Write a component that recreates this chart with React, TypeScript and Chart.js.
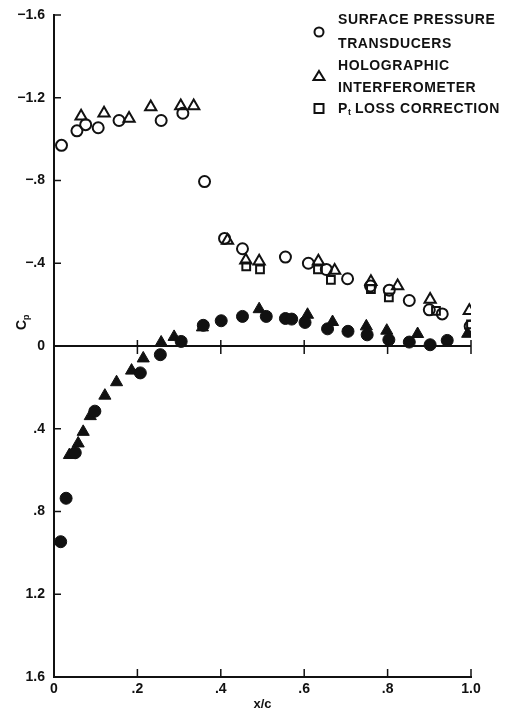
import React, { useEffect, useRef } from "react";
import { Chart, registerables } from "chart.js";

Chart.register(...registerables);

// Upper surface (open markers)
const upperCircleX = [0.018, 0.055, 0.076, 0.106, 0.156, 0.257, 0.309, 0.361, 0.409, 0.452, 0.555, 0.61, 0.653, 0.704, 0.759, 0.804, 0.852, 0.9, 0.931, 0.998];
const upperCircleCp = [-0.97, -1.04, -1.07, -1.055, -1.09, -1.09, -1.125, -0.795, -0.52, -0.47, -0.43, -0.4, -0.37, -0.325, -0.29, -0.27, -0.22, -0.175, -0.155, -0.095];

const upperTriX = [0.065, 0.12, 0.18, 0.232, 0.304, 0.335, 0.416, 0.46, 0.492, 0.634, 0.673, 0.76, 0.824, 0.902, 0.996];
const upperTriCp = [-1.11, -1.125, -1.1, -1.155, -1.16, -1.16, -0.51, -0.415, -0.41, -0.41, -0.365, -0.31, -0.29, -0.225, -0.17];

const upperSqX = [0.461, 0.494, 0.633, 0.664, 0.76, 0.803, 0.916, 1.0];
const upperSqCp = [-0.385, -0.37, -0.37, -0.32, -0.275, -0.235, -0.17, -0.105];

// Lower surface (filled markers)
const lowerCircleX = [0.016, 0.029, 0.051, 0.098, 0.207, 0.255, 0.305, 0.358, 0.401, 0.452, 0.509, 0.555, 0.57, 0.602, 0.656, 0.705, 0.751, 0.803, 0.852, 0.902, 0.943];
const lowerCircleCp = [0.946, 0.736, 0.516, 0.315, 0.13, 0.042, -0.022, -0.1, -0.122, -0.143, -0.143, -0.133, -0.13, -0.114, -0.083, -0.071, -0.054, -0.03, -0.019, -0.006, -0.027];

const lowerTriX = [0.037, 0.058, 0.07, 0.087, 0.122, 0.15, 0.186, 0.214, 0.257, 0.288, 0.356, 0.492, 0.608, 0.668, 0.749, 0.798, 0.872, 0.992];
const lowerTriCp = [0.527, 0.471, 0.415, 0.339, 0.24, 0.175, 0.119, 0.06, -0.017, -0.044, -0.09, -0.178, -0.151, -0.116, -0.095, -0.074, -0.058, -0.059];

const xTickValues = [0, 0.2, 0.4, 0.6, 0.8, 1.0];
const yTickValues = [-1.6, -1.2, -0.8, -0.4, 0, 0.4, 0.8, 1.2, 1.6];

const legendLines = [
  ["SURFACE PRESSURE", "TRANSDUCERS"],
  ["HOLOGRAPHIC", "INTERFEROMETER"],
  ["LOSS CORRECTION"],
];
const xTitle = "x/c";

const INK = "#111";
const FONT = "'Liberation Sans', Arial, sans-serif";

function fmt(v: number): string {
  if (Math.abs(v) < 1e-9) return "0";
  const s = Math.abs(v).toFixed(1);
  const t = s.startsWith("0") ? s.slice(1) : s;
  return (v < 0 ? "\u2212" : "") + t;
}

function pts(xs: number[], ys: number[]) {
  return xs.map((x, i) => ({ x, y: ys[i] }));
}

const decorPlugin = {
  id: "decor",
  afterDraw(chart: any) {
    const ctx = chart.ctx as CanvasRenderingContext2D;
    const xs = chart.scales.x;
    const ys = chart.scales.y;
    const area = chart.chartArea;
    ctx.save();
    ctx.strokeStyle = INK;
    ctx.fillStyle = INK;
    ctx.lineWidth = 2;
    // zero line
    const y0 = ys.getPixelForValue(0);
    ctx.beginPath();
    ctx.moveTo(area.left, y0);
    ctx.lineTo(area.right, y0);
    ctx.stroke();
    // x ticks (inside, bottom) and on zero line
    ctx.lineWidth = 1.5;
    xTickValues.forEach((v) => {
      if (v === 0) return;
      const px = xs.getPixelForValue(v);
      ctx.beginPath();
      ctx.moveTo(px, area.bottom);
      ctx.lineTo(px, area.bottom - 8);
      ctx.stroke();
      ctx.beginPath();
      ctx.moveTo(px, y0 - 6);
      ctx.lineTo(px, y0 + 8);
      ctx.stroke();
    });
    // y ticks (inside)
    yTickValues.forEach((v) => {
      const py = ys.getPixelForValue(v);
      ctx.beginPath();
      ctx.moveTo(area.left, py);
      ctx.lineTo(area.left + 7, py);
      ctx.stroke();
    });

    // axis titles
    ctx.font = `bold 13px ${FONT}`;
    ctx.textAlign = "center";
    ctx.textBaseline = "middle";
    ctx.fillText(xTitle, (area.left + area.right) / 2, 704);
    // C_p rotated
    ctx.save();
    ctx.translate(22, 322);
    ctx.rotate(-Math.PI / 2);
    ctx.font = `bold 14px ${FONT}`;
    ctx.textAlign = "left";
    ctx.fillText("C", -8, 0);
    ctx.font = `bold 9px ${FONT}`;
    ctx.fillText("p", 2, 5);
    ctx.restore();

    // legend
    ctx.lineWidth = 2;
    const sx = 319;
    ctx.beginPath();
    ctx.arc(sx, 32, 4.5, 0, Math.PI * 2);
    ctx.stroke();
    ctx.beginPath();
    ctx.moveTo(sx, 71);
    ctx.lineTo(sx + 5.5, 80);
    ctx.lineTo(sx - 5.5, 80);
    ctx.closePath();
    ctx.stroke();
    ctx.strokeRect(sx - 4.5, 104, 9, 9);

    ctx.font = `bold 14px ${FONT}`;
    (ctx as any).letterSpacing = "0.6px";
    ctx.textAlign = "left";
    ctx.textBaseline = "middle";
    const tx = 338;
    ctx.fillText(legendLines[0][0], tx, 20);
    ctx.fillText(legendLines[0][1], tx, 44);
    ctx.fillText(legendLines[1][0], tx, 66);
    ctx.fillText(legendLines[1][1], tx, 88);
    ctx.fillText("P", tx, 109);
    const pw = ctx.measureText("P").width;
    ctx.font = `bold 9px ${FONT}`;
    ctx.fillText("t", tx + pw, 113);
    ctx.font = `bold 14px ${FONT}`;
    ctx.fillText(legendLines[2][0], tx + pw + 7, 109);
    ctx.restore();
  },
};

export default function App() {
  const ref = useRef<HTMLCanvasElement | null>(null);
  useEffect(() => {
    if (!ref.current) return;
    const open = { borderColor: INK, backgroundColor: "rgba(0,0,0,0)", borderWidth: 2 };
    const filled = { borderColor: INK, backgroundColor: INK, borderWidth: 1 };
    const chart = new Chart(ref.current, {
      type: "scatter",
      data: {
        datasets: [
          { label: "SURFACE PRESSURE TRANSDUCERS", data: pts(upperCircleX, upperCircleCp), pointStyle: "circle", pointRadius: 5.5, ...open },
          { label: "HOLOGRAPHIC INTERFEROMETER", data: pts(upperTriX, upperTriCp), pointStyle: "triangle", pointRadius: 6.5, ...open },
          { label: "Pt LOSS CORRECTION", data: pts(upperSqX, upperSqCp), pointStyle: "rect", pointRadius: 5.5, ...open },
          { label: "lower circles", data: pts(lowerCircleX, lowerCircleCp), pointStyle: "circle", pointRadius: 6, ...filled },
          { label: "lower triangles", data: pts(lowerTriX, lowerTriCp), pointStyle: "triangle", pointRadius: 7, ...filled },
        ],
      },
      options: {
        animation: false,
        responsive: false,
        layout: { padding: { top: 15, right: 39, left: 0, bottom: 0 } },
        plugins: { legend: { display: false }, tooltip: { enabled: false } },
        scales: {
          x: {
            type: "linear",
            min: 0,
            max: 1,
            afterFit: (s: any) => { s.height = 33; },
            afterBuildTicks: (s: any) => { s.ticks = xTickValues.map((v) => ({ value: v })); },
            ticks: { callback: (v: any) => fmt(Number(v)), font: { family: FONT, size: 14, weight: "bold" }, color: INK, padding: -4, maxRotation: 0 },
            grid: { display: false },
            border: { display: true, color: INK, width: 2 },
          },
          y: {
            type: "linear",
            reverse: true,
            min: -1.6,
            max: 1.6,
            afterFit: (s: any) => { s.width = 54; },
            afterBuildTicks: (s: any) => { s.ticks = yTickValues.map((v) => ({ value: v })); },
            ticks: { callback: (v: any) => fmt(Number(v)), font: { family: FONT, size: 14, weight: "bold" }, color: INK, padding: 1 },
            grid: { display: false },
            border: { display: true, color: INK, width: 2 },
          },
        },
      },
      plugins: [decorPlugin],
    } as any);
    return () => chart.destroy();
  }, []);
  return (
    <div style={{ position: "absolute", left: 0, top: 0, width: 510, height: 710, background: "#fff" }}>
      <canvas ref={ref} width={510} height={710} style={{ display: "block", width: 510, height: 710 }} />
    </div>
  );
}
